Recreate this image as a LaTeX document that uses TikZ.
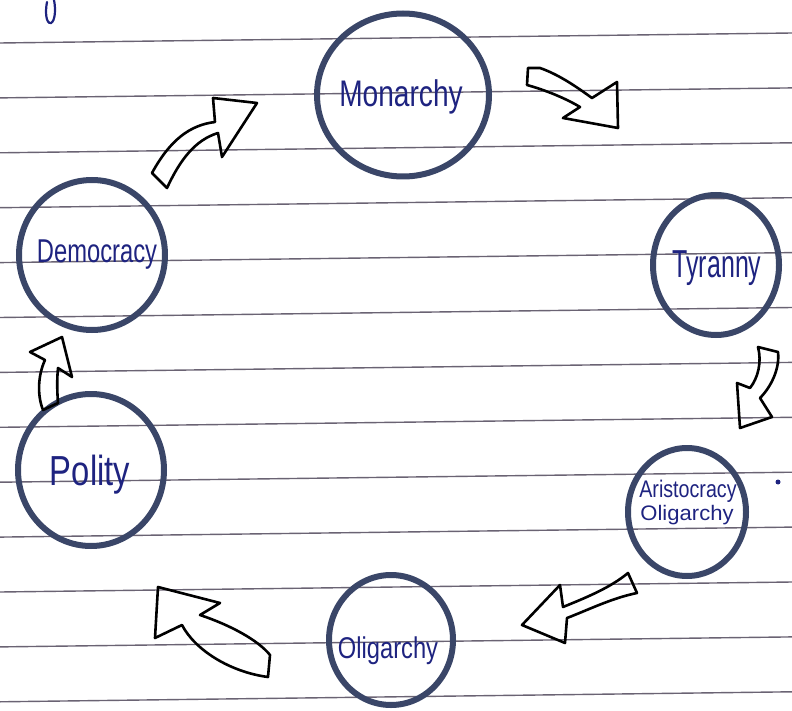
\documentclass[tikz,border=0pt]{standalone}
\usepackage{fontspec}
\usepackage{graphicx}
\setmainfont{Liberation Sans}
\usetikzlibrary{shapes.geometric}
\definecolor{ink}{HTML}{1E2380}
\definecolor{ringc}{HTML}{3A4668}
\definecolor{rulec}{HTML}{6A6373}
\newcommand\hwtext[3]{\fontsize{#1}{#1}\selectfont\scalebox{#2}[1]{#3}}
\begin{document}
\begin{tikzpicture}[x=1pt,y=-1pt,
  ring/.style={ellipse, draw=ringc, line width=6pt, inner sep=0pt},
  lbl/.style={text=ink, anchor=base, inner sep=0pt},
  blockarrow/.style={draw=black, line width=2.6pt, line join=round},
  ruled/.style={draw=rulec, line width=1.4pt}]
\useasboundingbox (0,0) rectangle (792,711);
% notebook ruling
\foreach \k in {0,...,12}
  \draw[ruled] (0,{43+54.9*\k}) -- (792,{33+54.9*\k});
% circles
\node[ring, minimum width=172pt, minimum height=163pt] (mon) at (403,95) {};
\node[ring, minimum width=126pt, minimum height=140pt] (tyr) at (716,265) {};
\node[ring, minimum width=118pt, minimum height=128pt] (ari) at (687,512) {};
\node[ring, minimum width=124pt, minimum height=130pt] (oli) at (391,640) {};
\node[ring, minimum width=146pt, minimum height=152pt] (pol) at (91,470) {};
\node[ring, minimum width=146pt, minimum height=150pt] (dem) at (92,255) {};
% labels
\node[lbl] (tmon) at (401,107) {\hwtext{37}{0.76}{Monarchy}};
\node[lbl] (ttyr) at (717,278) {\hwtext{39}{0.64}{Tyranny}};
\node[lbl] (tari) at (688,497) {\hwtext{24}{0.82}{Aristocracy}};
\node[lbl] (tari2) at (687,520) {\hwtext{21}{1.05}{Oligarchy}};
\node[lbl] (toli) at (388,658) {\hwtext{30}{0.79}{Oligarchy}};
\node[lbl] (tpol) at (90,485) {\hwtext{42}{0.78}{Polity}};
\node[lbl] (tdem) at (97,262) {\hwtext{33}{0.72}{Democracy}};
% block arrows
\draw[blockarrow] (152,173) .. controls (170,140) and (190,125) .. (215,122)
  -- (213,98) -- (257,103) -- (222,157) -- (218,133)
  .. controls (195,140) and (180,160) .. (167,188) -- cycle;
\draw[blockarrow] (540,68) .. controls (560,75) and (578,88) .. (592,98)
  -- (617,82) -- (618,128) -- (563,118) -- (580,107)
  .. controls (565,98) and (545,90) .. (527,85) -- (528,68) -- cycle;
\draw[blockarrow] (758,347) -- (778,352) .. controls (780,370) and (770,388) .. (760,398)
  -- (772,417) -- (740,428) -- (737,383) -- (750,388)
  .. controls (758,378) and (762,362) .. (758,347) -- cycle;
\draw[blockarrow] (628,573) -- (637,593) .. controls (612,598) and (588,610) .. (567,618)
  -- (565,643) -- (522,625) -- (560,585) -- (563,607)
  .. controls (585,598) and (610,588) .. (628,573) -- cycle;
\draw[blockarrow] (158,587) -- (220,603) -- (200,615)
  .. controls (230,625) and (258,640) .. (270,655) -- (268,677)
  .. controls (230,672) and (195,650) .. (182,625) -- (155,638) -- cycle;
\draw[blockarrow] (43,410) -- (58,403) .. controls (57,390) and (57,378) .. (58,368)
  -- (72,377) -- (62,337) -- (30,352) -- (45,360)
  .. controls (38,375) and (37,395) .. (43,410) -- cycle;
% stray marks
\draw[ink, line width=2.2pt, line cap=round] (54,0) .. controls (56,10) and (55,21) .. (51,23)
  .. controls (46,24) and (45,12) .. (47,2);
\fill[ink] (778,482) circle (2.5pt);
\end{tikzpicture}
\end{document}
